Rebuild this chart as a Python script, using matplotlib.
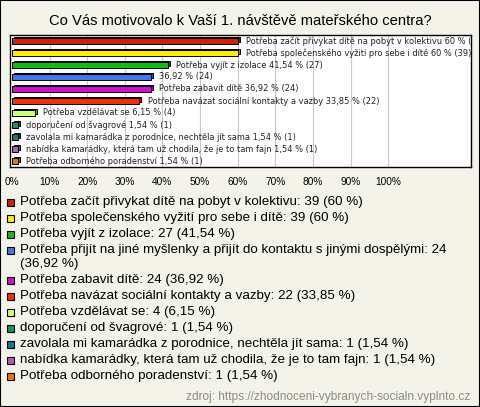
import matplotlib
matplotlib.use("Agg")
import matplotlib.pyplot as plt
from matplotlib.patches import Rectangle

plt.rcParams["font.family"] = ["Liberation Sans", "DejaVu Sans"]

title = "Co Vás motivovalo k Vaší 1. návštěvě mateřského centra?"
names = [
    "Potřeba začít přivykat dítě na pobyt v kolektivu",
    "Potřeba společenského vyžití pro sebe i dítě",
    "Potřeba vyjít z izolace",
    "Potřeba přijít na jiné myšlenky a přijít do kontaktu s jinými dospělými",
    "Potřeba zabavit dítě",
    "Potřeba navázat sociální kontakty a vazby",
    "Potřeba vzdělávat se",
    "doporučení od švagrové",
    "zavolala mi kamarádka z porodnice, nechtěla jít sama",
    "nabídka kamarádky, která tam už chodila, že je to tam fajn",
    "Potřeba odborného poradenství",
]
counts = [39, 39, 27, 24, 24, 22, 4, 1, 1, 1, 1]
pcts = [60, 60, 41.54, 36.92, 36.92, 33.85, 6.15, 1.54, 1.54, 1.54, 1.54]
colors = ["#cc2200", "#ffee00", "#11bb11", "#4477ee", "#cc11cc", "#ee3300",
          "#ccff77", "#119955", "#117799", "#bb55bb", "#ee7700"]
# the long category is shown in the chart without its name
show_name = [True, True, True, False, True, True, True, True, True, True, True]
xticks = list(range(0, 101, 10))
source = "zdroj: https://zhodnoceni-vybranych-socialn.vyplnto.cz"

W, H = 480, 407
BG = "#f4f3e9"


def fmt(p):
    return f"{p:g}".replace(".", ",") + " %"


def darker(c, f=0.6):
    r, g, b = matplotlib.colors.to_rgb(c)
    return (r * f, g * f, b * f)


fig = plt.figure(figsize=(W / 100, H / 100), dpi=100, facecolor=BG)
fig.patches.append(Rectangle((0, 0), 1, 1, transform=fig.transFigure,
                             fill=False, edgecolor="black", lw=1.5))

fig.text(0.5, 1 - 21 / H, title, ha="center", va="center", fontsize=10.6)

ax = fig.add_axes([10 / W, 1 - 167 / H, 461 / W, 132 / H])
ax.set_facecolor("white")
ax.set_xlim(-0.5, 122)
ax.set_ylim(len(pcts) - 0.5, -0.5)
for x in xticks[1:]:
    ax.axvline(x, color="#c8c8c8", lw=0.8, zorder=0)

ys = list(range(len(pcts)))
# fake 3D: darker slab behind each bar
ax.barh([y - 0.15 for y in ys], pcts, left=0.5, height=0.42,
        color=[darker(c) for c in colors], edgecolor="black", lw=0.7, zorder=2)
ax.barh(ys, pcts, height=0.42, color=colors, edgecolor="black", lw=0.7, zorder=3)

for y, n, p, c, s in zip(ys, names, pcts, counts, show_name):
    lab = f"{n} {fmt(p)} ({c})" if s else f"{fmt(p)} ({c})"
    ax.text(p + 2.2, y, lab, va="center", ha="left", fontsize=5.95,
            family="DejaVu Sans", color="#222222", clip_on=True, zorder=4)

ax.set_xticks(xticks)
ax.set_xticklabels([f"{x}%" for x in xticks], fontsize=7.3)
ax.tick_params(axis="x", length=0, pad=7)
ax.set_yticks([])
for sp in ax.spines.values():
    sp.set_color("black")
    sp.set_linewidth(1.0)

# legend
y = 202
for n, p, c, col in zip(names, pcts, counts, colors):
    fig.patches.append(Rectangle((7 / W, 1 - (y + 3.5) / H), 7 / W, 7 / H,
                                 transform=fig.transFigure, facecolor=col,
                                 edgecolor="black", lw=0.8))
    lab = f"{n}: {c} ({fmt(p)})"
    if len(lab) > 70:
        first, rest = lab.rsplit(" (", 1)
        fig.text(20 / W, 1 - y / H, first, va="center", fontsize=9.6)
        y += 14.5
        fig.text(20 / W, 1 - y / H, "(" + rest, va="center", fontsize=9.6)
    else:
        fig.text(20 / W, 1 - y / H, lab, va="center", fontsize=9.6)
    y += 16

fig.text(470 / W, 1 - 397 / H, source, ha="right", va="center",
         fontsize=8.6, color="#8a8a8a")

fig.savefig("out.png", dpi=100, facecolor=BG)
